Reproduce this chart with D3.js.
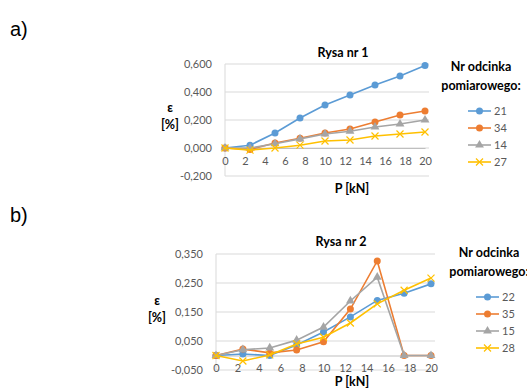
<!DOCTYPE html>
<html>
<head>
<meta charset="utf-8">
<script src="https://cdn.jsdelivr.net/npm/d3@7"></script>
<style>
  body { margin: 0; background: #fff; }
  svg { display: block; }
  text { font-family: Lato, "Open Sans", sans-serif; }
</style>
</head>
<body>
<div id="wrapper"></div>
<script>
const loads = [0, 2.5, 5, 7.5, 10, 12.5, 15, 17.5, 20]
const xTicks = [0, 2, 4, 6, 8, 10, 12, 14, 16, 18, 20]

// Rysa nr 1
const names1 = ["21", "34", "14", "27"]
const s21 = [0, 0.02, 0.107, 0.214, 0.307, 0.379, 0.45, 0.514, 0.59]
const s34 = [0, -0.01, 0.036, 0.07, 0.107, 0.136, 0.186, 0.236, 0.264]
const s14 = [0, 0, 0.03, 0.065, 0.1, 0.12, 0.15, 0.171, 0.2]
const s27 = [0, -0.015, 0, 0.02, 0.05, 0.057, 0.086, 0.1, 0.114]
const yTicks1 = [-0.2, 0, 0.2, 0.4, 0.6]

// Rysa nr 2
const names2 = ["22", "35", "15", "28"]
const s22 = [0, 0.005, 0, 0.036, 0.081, 0.133, 0.19, 0.215, 0.247]
const s35 = [0, 0.022, 0.009, 0.019, 0.047, 0.16, 0.326, 0, 0]
const s15 = [0, 0.02, 0.026, 0.053, 0.098, 0.188, 0.27, 0, 0]
const s28 = [0, -0.019, 0.002, 0.04, 0.063, 0.112, 0.178, 0.225, 0.267]
const yTicks2 = [-0.05, 0.05, 0.15, 0.25, 0.35]

const colors = ["#5b9bd5", "#ed7d31", "#a5a5a5", "#ffc000"]
const markers = ["circle", "circle", "triangle", "x"]

const svg = d3.select("#wrapper")
  .append("svg")
    .attr("width", 527)
    .attr("height", 390)

const fmt = d => d3.format(".3f")(d).replace("−", "-").replace(".", ",")

function drawMarker(g, type, color, x, y) {
  if (type === "circle") {
    g.append("circle").attr("cx", x).attr("cy", y).attr("r", 3.5).attr("fill", color)
  } else if (type === "triangle") {
    g.append("path")
      .attr("d", d3.symbol().type(d3.symbolTriangle).size(34)())
      .attr("transform", `translate(${x},${y})`)
      .attr("fill", color)
  } else {
    g.append("path")
      .attr("d", `M${x - 3.5},${y - 3.5}L${x + 3.5},${y + 3.5}M${x - 3.5},${y + 3.5}L${x + 3.5},${y - 3.5}`)
      .attr("stroke", color)
      .attr("stroke-width", 1.2)
  }
}

function drawChart(cfg) {
  const g = svg.append("g")
  const xScale = d3.scaleLinear().domain([0, 20]).range(cfg.xRange)
  const yScale = d3.scaleLinear().domain(cfg.yDomain).range(cfg.yRange)

  // gridlines
  g.selectAll(".grid")
    .data(cfg.yTicks)
    .enter().append("line")
      .attr("x1", cfg.xRange[0])
      .attr("x2", cfg.xRange[1] + 4)
      .attr("y1", d => yScale(d))
      .attr("y2", d => yScale(d))
      .attr("stroke", "#d9d9d9")
      .attr("stroke-width", 1)

  // left axis line
  g.append("line")
    .attr("x1", cfg.xRange[0]).attr("x2", cfg.xRange[0])
    .attr("y1", cfg.yRange[1]).attr("y2", cfg.yRange[0])
    .attr("stroke", "#d9d9d9")

  const yAxis = g.append("g")
    .attr("transform", `translate(${cfg.xRange[0] - 10},0)`)
    .call(d3.axisLeft(yScale).tickValues(cfg.yTicks).tickSize(0).tickFormat(fmt))
  yAxis.select(".domain").remove()
  yAxis.selectAll("text")
    .attr("fill", "#595959")
    .style("font-size", "11px")
    .style("font-family", "Lato, sans-serif")

  // horizontal axis at zero
  const xAxis = g.append("g")
    .attr("transform", `translate(0,${yScale(0)})`)
    .call(d3.axisBottom(xScale).tickValues(xTicks).tickSize(0).tickPadding(9))
  xAxis.select(".domain").attr("stroke", "#bfbfbf")
  xAxis.selectAll("text")
    .attr("fill", "#595959")
    .style("font-size", "11px")
    .style("font-family", "Lato, sans-serif")

  const line = d3.line()
    .x((d, i) => xScale(loads[i]))
    .y(d => yScale(d))

  cfg.series.forEach((s, k) => {
    g.append("path")
      .datum(s)
      .attr("d", line)
      .attr("fill", "none")
      .attr("stroke", colors[k])
      .attr("stroke-width", 1.6)
    s.forEach((v, i) => drawMarker(g, markers[k], colors[k], xScale(loads[i]), yScale(v)))
  })

  // titles
  g.append("text")
    .attr("x", cfg.titleX).attr("y", cfg.titleY)
    .attr("text-anchor", "middle")
    .style("font-size", "12.5px").style("font-weight", "bold")
    .text(cfg.title)

  g.append("text")
    .attr("x", cfg.xTitle[0]).attr("y", cfg.xTitle[1])
    .attr("text-anchor", "middle")
    .style("font-size", "12.5px").style("font-weight", "bold")
    .text("P [kN]")

  g.append("text")
    .attr("x", cfg.yTitle[0]).attr("y", cfg.yTitle[1])
    .attr("text-anchor", "middle")
    .style("font-size", "12.5px").style("font-weight", "bold")
    .text("ε")
  g.append("text")
    .attr("x", cfg.yTitle[0]).attr("y", cfg.yTitle[1] + 17)
    .attr("text-anchor", "middle")
    .style("font-size", "12.5px").style("font-weight", "bold")
    .text("[%]")

  // legend
  const lg = svg.append("g")
  lg.append("text")
    .attr("x", cfg.legendX).attr("y", cfg.legendY)
    .attr("text-anchor", "middle")
    .style("font-size", "12.5px").style("font-weight", "bold")
    .text("Nr odcinka")
  lg.append("text")
    .attr("x", cfg.legendX).attr("y", cfg.legendY + 19)
    .attr("text-anchor", "middle")
    .style("font-size", "12.5px").style("font-weight", "bold")
    .text(cfg.legendTitle2)

  cfg.names.forEach((n, k) => {
    const y = cfg.legendY + 40 + k * 17
    lg.append("line")
      .attr("x1", cfg.legendLineX).attr("x2", cfg.legendLineX + 23)
      .attr("y1", y).attr("y2", y)
      .attr("stroke", colors[k]).attr("stroke-width", 1.6)
    drawMarker(lg, markers[k], colors[k], cfg.legendLineX + 11.5, y)
    lg.append("text")
      .attr("x", cfg.legendLineX + 26).attr("y", y + 4)
      .attr("fill", "#595959")
      .style("font-size", "11px")
      .text(n)
  })
}

drawChart({
  series: [s21, s34, s14, s27],
  names: names1,
  title: "Rysa nr 1",
  titleX: 343, titleY: 57,
  xRange: [225, 425],
  yDomain: [-0.2, 0.6],
  yRange: [176, 64],
  yTicks: yTicks1,
  xTitle: [352, 193],
  yTitle: [170, 112],
  legendX: 481, legendY: 71,
  legendTitle2: "pomiarowego:",
  legendLineX: 468
})

drawChart({
  series: [s22, s35, s15, s28],
  names: names2,
  title: "Rysa nr 2",
  titleX: 341, titleY: 246,
  xRange: [216, 431],
  yDomain: [-0.05, 0.35],
  yRange: [370, 254],
  yTicks: yTicks2,
  xTitle: [352, 386],
  yTitle: [157, 305],
  legendX: 489, legendY: 257,
  legendTitle2: "pomiarowego:",
  legendLineX: 476
})

// panel labels
svg.append("text")
  .attr("x", 10).attr("y", 36)
  .style("font-family", "'Liberation Sans Narrow', 'Liberation Sans', sans-serif")
  .style("font-size", "20px")
  .text("a)")
svg.append("text")
  .attr("x", 10).attr("y", 222)
  .style("font-family", "'Liberation Sans Narrow', 'Liberation Sans', sans-serif")
  .style("font-size", "20px")
  .text("b)")
</script>
</body>
</html>
